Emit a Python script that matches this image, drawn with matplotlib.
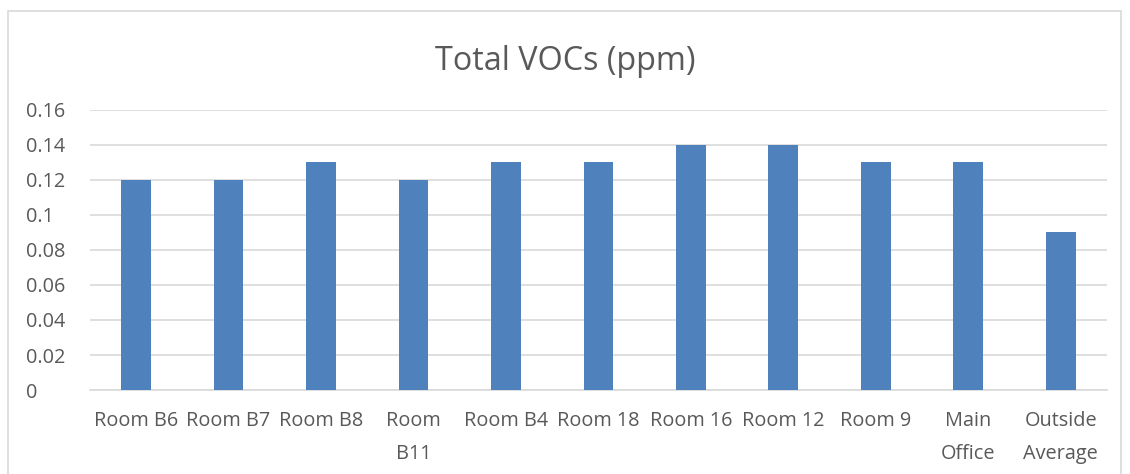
import matplotlib
matplotlib.use("Agg")
import matplotlib.pyplot as plt
from matplotlib.patches import Rectangle

categories = ["Room B6", "Room B7", "Room B8", "Room\nB11", "Room B4", "Room 18",
              "Room 16", "Room 12", "Room 9", "Main\nOffice", "Outside\nAverage"]
values = [0.12, 0.12, 0.13, 0.12, 0.13, 0.13, 0.14, 0.14, 0.13, 0.13, 0.09]
yticks = [0, 0.02, 0.04, 0.06, 0.08, 0.1, 0.12, 0.14, 0.16]
ytick_labels = ["0", "0.02", "0.04", "0.06", "0.08", "0.1", "0.12", "0.14", "0.16"]

plt.rcParams['font.family'] = ['Open Sans', 'DejaVu Sans']
fig = plt.figure(figsize=(11.3, 4.74), dpi=100)
ax = fig.add_axes([0.0794, 0.1772, 0.9002, 0.5908])

x = list(range(len(categories)))
ax.bar(x, values, width=0.32, color="#4f81bd", zorder=3)
ax.set_xlim(-0.5, len(categories) - 0.5)
ax.set_ylim(0, 0.16)
ax.set_yticks(yticks)
ax.set_yticklabels(ytick_labels)
ax.set_xticks(x)
ax.set_xticklabels(categories, linespacing=1.85)
ax.tick_params(axis="both", length=0, labelsize=14.3, labelcolor="#595959")
ax.tick_params(axis="x", pad=15)
ax.yaxis.grid(True, color="#d9d9d9", linewidth=1.2, zorder=0)
for s in ["top", "right", "left"]:
    ax.spines[s].set_visible(False)
ax.spines["bottom"].set_color("#d9d9d9")
ax.spines["bottom"].set_linewidth(1.2)
for lbl in ax.get_yticklabels():
    lbl.set_horizontalalignment("left")
ax.tick_params(axis="y", pad=46)

fig.text(0.5, 0.87, "Total VOCs (ppm)", ha="center", va="center",
         fontsize=23.3, color="#595959")
fig.patches.append(Rectangle((8 / 1130, -0.01), (1121 - 8) / 1130, (474 - 11) / 474 + 0.01,
                             transform=fig.transFigure, fill=False,
                             edgecolor="#d9d9d9", linewidth=1.2))
fig.savefig("out.png", dpi=100)
